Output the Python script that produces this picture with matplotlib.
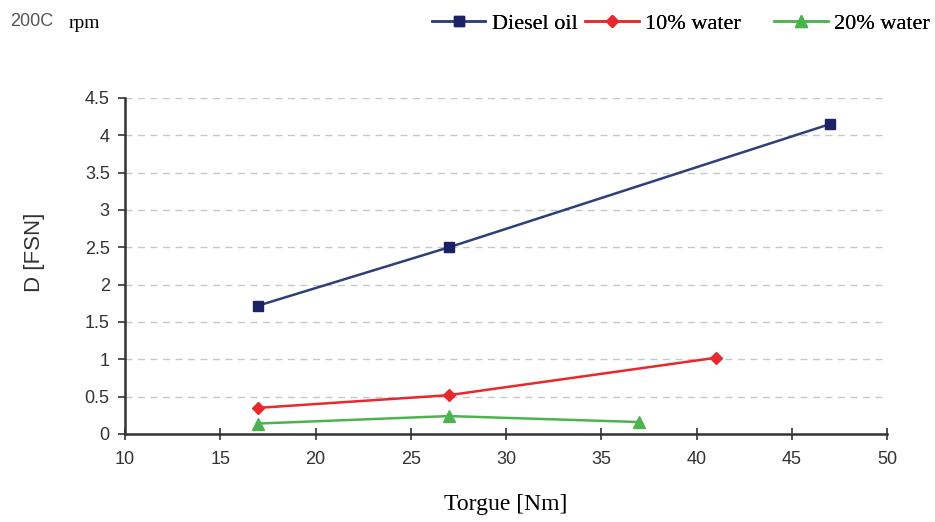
import matplotlib.pyplot as plt

# torque values and smoke (FSN) per fuel
torque_diesel = [17, 27, 47]
fsn_diesel = [1.72, 2.5, 4.15]
torque_w10 = [17, 27, 41]
fsn_w10 = [0.35, 0.52, 1.02]
torque_w20 = [17, 27, 37]
fsn_w20 = [0.14, 0.24, 0.16]

xticks = [10, 15, 20, 25, 30, 35, 40, 45, 50]
yticks = [0, 0.5, 1, 1.5, 2, 2.5, 3, 3.5, 4, 4.5]
ytick_labels = ['0', '0.5', '1', '1.5', '2', '2.5', '3', '3.5', '4', '4.5']

sans = 'Liberation Sans'
serif = 'Liberation Serif'

fig = plt.figure(figsize=(9.35, 5.22), dpi=100)
ax = fig.add_axes([0.1337, 0.1686, 0.815, 0.6437])

l1, = ax.plot(torque_diesel, fsn_diesel, color='#2e3f7c', lw=1.8, marker='s',
              ms=7, mfc='#1c2166', mec='#1c2166', label='Diesel oil')
l2, = ax.plot(torque_w10, fsn_w10, color='#e8282c', lw=1.8, marker='D',
              ms=6, mfc='#e8282c', mec='#e8282c', label='10% water')
l3, = ax.plot(torque_w20, fsn_w20, color='#4db34f', lw=1.8, marker='^',
              ms=8, mfc='#4db34f', mec='#4db34f', label='20% water')

ax.set_xlim(10, 50)
ax.set_ylim(0, 4.5)
ax.set_xticks(xticks)
ax.set_yticks(yticks)
ax.set_yticklabels(ytick_labels)
for lab in ax.get_xticklabels() + ax.get_yticklabels():
    lab.set_fontfamily(sans)
    lab.set_fontsize(13)
    lab.set_color('#333333')

ax.grid(axis='y', color='#c8c8c8', ls=(0, (5, 4)), lw=1)
ax.set_axisbelow(True)
for s in ['top', 'right']:
    ax.spines[s].set_visible(False)
for s in ['left', 'bottom']:
    ax.spines[s].set_linewidth(1.8)
    ax.spines[s].set_color('#333333')
ax.tick_params(axis='x', direction='inout', length=8, width=1.2, colors='#333333', pad=8)
ax.tick_params(axis='y', direction='out', length=5, width=1.2, colors='#333333', pad=6)

ax.set_xlabel('Torgue [Nm]', fontfamily=serif, fontsize=17)
ax.xaxis.set_label_coords(0.5, -0.18)
ax.set_ylabel('D [FSN]', fontfamily=sans, fontsize=16, color='#333333')
ax.yaxis.set_label_coords(-0.105, 0.54)

fig.text(0.011, 0.958, '200C', fontfamily=sans, fontsize=13, color='#555555', va='center')
fig.text(0.073, 0.955, 'rpm', fontfamily=serif, fontsize=14, va='center')

leg_x = [0.462, 0.626, 0.828]
for h, x in zip([l1, l2, l3], leg_x):
    lg = fig.legend(handles=[h], loc='center left', bbox_to_anchor=(x, 0.955),
                    frameon=False, prop={'family': serif, 'size': 16},
                    handlelength=2.4, handletextpad=0.3, borderaxespad=0, borderpad=0)
    fig.add_artist(lg)

fig.savefig('out.png', dpi=100)
